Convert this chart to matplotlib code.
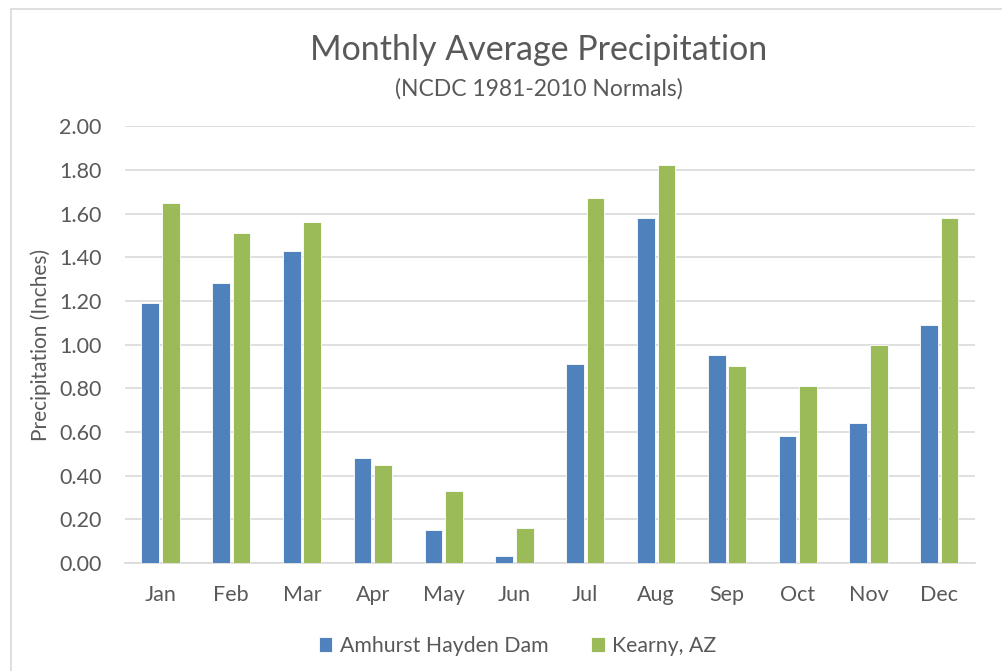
import matplotlib.pyplot as plt
import numpy as np
from matplotlib.patches import Rectangle

months = ["Jan", "Feb", "Mar", "Apr", "May", "Jun", "Jul", "Aug", "Sep", "Oct", "Nov", "Dec"]
amhurst = [1.19, 1.28, 1.43, 0.48, 0.15, 0.03, 0.91, 1.58, 0.95, 0.58, 0.64, 1.09]
kearny = [1.65, 1.51, 1.56, 0.45, 0.33, 0.16, 1.67, 1.82, 0.90, 0.81, 1.00, 1.58]
yticks = [0.0, 0.2, 0.4, 0.6, 0.8, 1.0, 1.2, 1.4, 1.6, 1.8, 2.0]

textcol = "#595959"
plt.rcParams['font.family'] = ['Lato', 'DejaVu Sans']

fig = plt.figure(figsize=(10.02, 6.71), dpi=100)
ax = fig.add_axes([0.1248, 0.161, 0.848, 0.651])

# outer chart frame (top and left edges visible)
fig.patches.append(Rectangle((10.5/1002, -0.05), 1.0, 1.05 - 9/671, transform=fig.transFigure,
                             fill=False, edgecolor="#d9d9d9", linewidth=1.2))

x = np.arange(len(months))
w = 0.25
ax.bar(x - 0.145, amhurst, w, color="#4f81bd", edgecolor="white", linewidth=0.6,
       label="Amhurst Hayden Dam", zorder=3)
ax.bar(x + 0.145, kearny, w, color="#9bbb59", edgecolor="white", linewidth=0.6,
       label="Kearny, AZ", zorder=3)

ax.set_xlim(-0.5, len(months) - 0.5)
ax.set_ylim(0, 2.0)
ax.set_yticks(yticks)
ax.set_yticklabels(["{:.2f}".format(v) for v in yticks])
ax.set_xticks(x)
ax.set_xticklabels(months)
ax.yaxis.grid(True, color="#d9d9d9", linewidth=1.2, zorder=0)
ax.set_axisbelow(True)
for s in ["top", "right", "left"]:
    ax.spines[s].set_visible(False)
ax.spines["bottom"].set_color("#d9d9d9")
ax.spines["bottom"].set_linewidth(1.2)
ax.tick_params(length=0, labelsize=15.5, colors=textcol)
ax.tick_params(axis="x", pad=16)
ax.tick_params(axis="y", pad=17)

ax.set_ylabel("Precipitation (Inches)", fontsize=15, color=textcol, labelpad=6)

fig.text(0.538, 0.926, "Monthly Average Precipitation", ha="center", va="center",
         fontsize=24.5, color=textcol)
fig.text(0.538, 0.867, "(NCDC 1981-2010 Normals)", ha="center", va="center",
         fontsize=16.5, color=textcol)

ax.legend(loc="center", bbox_to_anchor=(0.462, -0.19), ncol=2, frameon=False,
          fontsize=15.3, labelcolor=textcol, handlelength=0.65, handleheight=0.65,
          handletextpad=0.35, columnspacing=2.0)

fig.savefig("out.png", dpi=100)
